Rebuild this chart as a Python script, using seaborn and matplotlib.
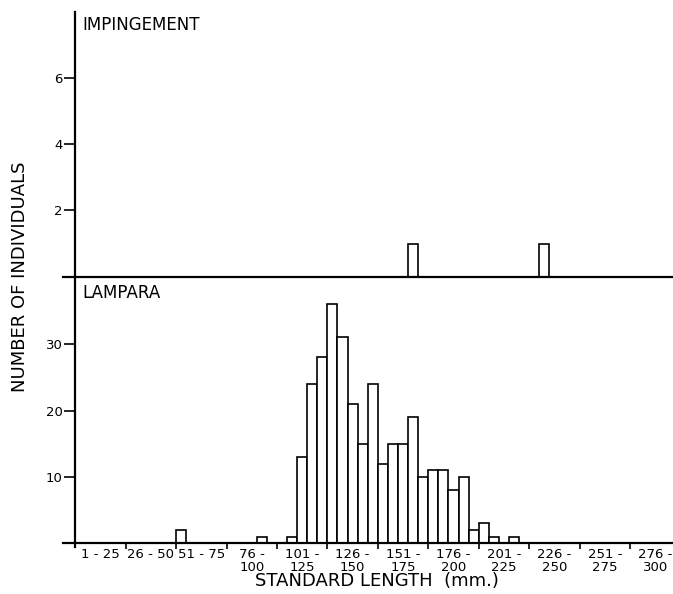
import numpy as np
import pandas as pd
import matplotlib
matplotlib.use("Agg")
import matplotlib.pyplot as plt
import seaborn as sns

# ---- data ----
imp_bins = [166, 231]            # lower bound of 5-mm class (mm)
imp_counts = [1, 1]
lam_bins = [51, 91, 106, 111, 116, 121, 126, 131, 136, 141, 146, 151,
            156, 161, 166, 171, 176, 181, 186, 191, 196, 201, 206, 216]
lam_counts = [2, 1, 1, 13, 24, 28, 36, 31, 21, 15, 24, 12,
              15, 15, 19, 10, 11, 11, 8, 10, 2, 3, 1, 1]
class_labels = ["1 - 25", "26 - 50", "51 - 75", "76 -\n100", "101 -\n125",
                "126 -\n150", "151 -\n175", "176 -\n200", "201 -\n225",
                "226 -\n250", "251 -\n275", "276 -\n300"]
imp_yticks = [2, 4, 6]
lam_yticks = [10, 20, 30]

sns.set_style("ticks")
plt.rcParams['font.family'] = ['DejaVu Sans']
plt.rcParams['text.color'] = 'black'

fig = plt.figure(figsize=(6.73, 5.94), dpi=100)
ax1 = fig.add_axes([0.0932, 0.5342, 0.9068, 0.4461])
ax2 = fig.add_axes([0.0932, 0.0786, 0.9068, 0.4556])
ax2.patch.set_visible(False)

for ax, b, c in [(ax1, imp_bins, imp_counts), (ax2, lam_bins, lam_counts)]:
    df = pd.DataFrame({"length": np.array(b) + 1.5, "n": c})
    sns.histplot(data=df, x="length", weights="n", binwidth=5,
                 binrange=(0, 300), ax=ax,
                 color="white", edgecolor="black", linewidth=1.2, alpha=1)
    ax.set_xlim(-6.2, 296.3)
    ax.spines["top"].set_visible(False)
    ax.spines["right"].set_visible(False)
    ax.spines["left"].set_position(("data", 0))
    for s in ("left", "bottom"):
        ax.spines[s].set_linewidth(1.6)
        ax.spines[s].set_color("black")
        ax.spines[s].set_zorder(5)
    ax.set_ylabel("")
    ax.set_xlabel("")
    ax.tick_params(axis="y", direction="out", length=8, width=1.2,
                   labelsize=9.5, pad=1, colors="black")

# upper panel
ax1.set_ylim(0, 8)
ax1.set_xticks([])
ax1.set_yticks(imp_yticks)
ax1.text(0.032, 0.95, "IMPINGEMENT", transform=ax1.transAxes,
         fontsize=12, ha="left", va="center", color="black")

# lower panel
ax2.set_ylim(-0.6, 40.15)
ax2.spines["bottom"].set_position(("data", 0))
ax2.set_yticks(lam_yticks)
bounds = np.arange(25, 300, 25)
ax2.set_xticks(bounds)
ax2.set_xticklabels([""] * len(bounds))
ax2.tick_params(axis="x", which="major", direction="out", length=4,
                width=1.2, colors="black")
ax2.set_xticks(np.arange(12.5, 300, 25), minor=True)
ax2.set_xticklabels(class_labels, minor=True, fontsize=9.5, linespacing=1.0)
ax2.tick_params(axis="x", which="minor", length=0, pad=3.5,
                labelcolor="black")
ax2.text(0.032, 0.94, "LAMPARA", transform=ax2.transAxes,
         fontsize=12, ha="left", va="center", color="black")

ax2.set_xlabel("STANDARD LENGTH  (mm.)", fontsize=13, color="black")
ax2.xaxis.set_label_coords((377 - 62.7) / 610.3, -0.125)
ax2.xaxis.label.set_va("center")

fig.text(20.5 / 673, 1 - 277 / 594, "NUMBER OF INDIVIDUALS", rotation=90,
         ha="center", va="center", fontsize=13, color="black")

fig.savefig("out.png", dpi=100)
